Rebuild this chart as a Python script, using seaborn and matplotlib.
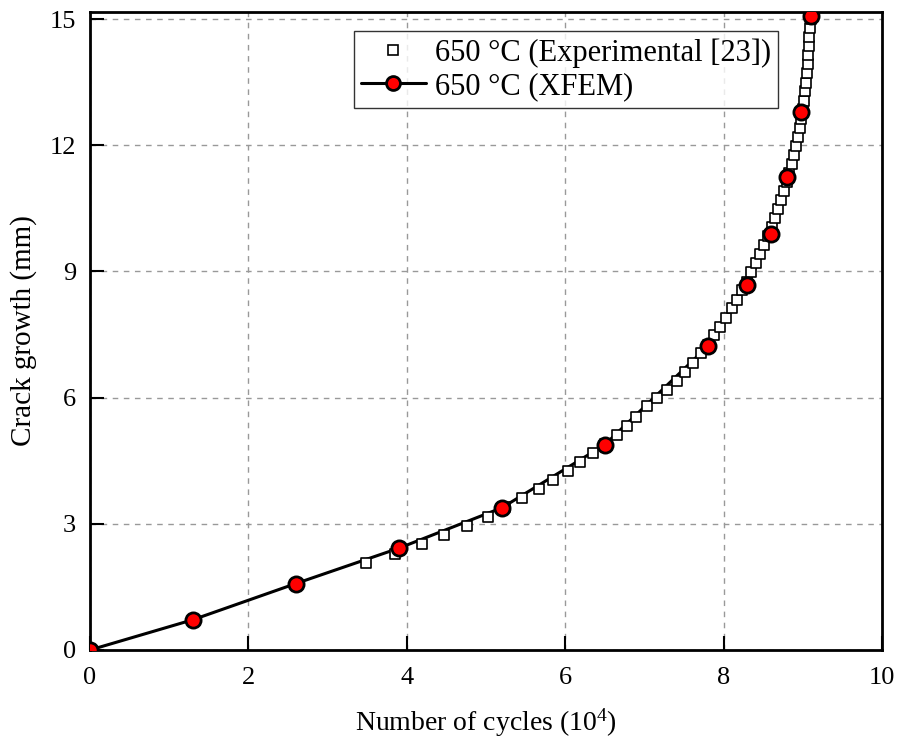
import numpy as np
import pandas as pd
import matplotlib
matplotlib.use("Agg")
import matplotlib.pyplot as plt
import seaborn as sns
from matplotlib.lines import Line2D

# Experimental data (cycles in 10^4, crack growth in mm)
exp_cycles = [3.48, 3.85, 4.19, 4.47, 4.76, 5.03, 5.24, 5.46, 5.67, 5.84, 6.04, 6.19, 6.35, 6.50,
              6.65, 6.78, 6.90, 7.03, 7.16, 7.29, 7.41, 7.51, 7.62, 7.71, 7.80, 7.88, 7.95,
              8.03, 8.10, 8.17, 8.23, 8.29, 8.35, 8.41, 8.46, 8.51, 8.56, 8.61, 8.65, 8.69,
              8.73, 8.76, 8.80, 8.83, 8.86, 8.89, 8.92, 8.94, 8.96, 8.98, 9.00, 9.01, 9.03,
              9.04, 9.05, 9.06, 9.07, 9.08, 9.08, 9.09, 9.10]
exp_growth = [2.07, 2.29, 2.52, 2.74, 2.95, 3.17, 3.39, 3.62, 3.83, 4.05, 4.26, 4.48, 4.69, 4.90,
              5.12, 5.33, 5.55, 5.79, 6.00, 6.19, 6.40, 6.62, 6.83, 7.05, 7.26, 7.48, 7.69,
              7.90, 8.12, 8.33, 8.55, 8.76, 8.98, 9.19, 9.41, 9.62, 9.84, 10.05, 10.27, 10.48,
              10.70, 10.91, 11.13, 11.34, 11.56, 11.77, 11.99, 12.20, 12.42, 12.63, 12.85, 13.06, 13.28,
              13.49, 13.71, 13.92, 14.14, 14.35, 14.57, 14.78, 15.00]

# XFEM results
xfem_cycles = [0.0, 1.3, 2.6, 3.9, 5.2, 6.5, 7.8, 8.3, 8.6, 8.8, 8.98, 9.1]
xfem_growth = [0.0, 0.72, 1.58, 2.42, 3.38, 4.88, 7.22, 8.68, 9.88, 11.25, 12.8, 15.08]

x_ticks = [0, 2, 4, 6, 8, 10]
y_ticks = [0, 3, 6, 9, 12, 15]

exp_label = "650 °C (Experimental [23])"
xfem_label = "650 °C (XFEM)"

sns.set_theme(style="white")
plt.rcParams['font.family'] = ['Liberation Serif', 'DejaVu Serif']
plt.rcParams['mathtext.fontset'] = 'custom'
plt.rcParams['mathtext.rm'] = 'Liberation Serif'
plt.rcParams['mathtext.it'] = 'Liberation Serif:italic'

df_exp = pd.DataFrame({"cycles": exp_cycles, "growth": exp_growth})
df_xfem = pd.DataFrame({"cycles": xfem_cycles, "growth": xfem_growth})

fig = plt.figure(figsize=(9.01, 7.42), dpi=100)
ax = fig.add_axes([0.0999, 0.124, 0.879, 0.86])

sns.lineplot(data=df_xfem, x="cycles", y="growth", ax=ax, color="black", lw=2.2,
             zorder=2, legend=False, sort=False)
sns.scatterplot(data=df_exp, x="cycles", y="growth", ax=ax, marker="s", s=55,
                facecolor="white", edgecolor="black", linewidth=1.2, zorder=3, legend=False)
sns.scatterplot(data=df_xfem, x="cycles", y="growth", ax=ax, marker="o", s=120,
                color="red", edgecolor="black", linewidth=2.0, zorder=4, legend=False)

ax.set_xlim(0, 10)
ax.set_ylim(0, 15.17)
ax.set_xticks(x_ticks)
ax.set_yticks(y_ticks)
ax.set_xticklabels([str(t) for t in x_ticks])
ax.set_yticklabels([str(t) for t in y_ticks])
ax.tick_params(direction="in", length=10, width=1.5, labelsize=19, colors="black",
               bottom=True, left=True)
ax.tick_params(axis="x", pad=12)
ax.tick_params(axis="y", pad=10)
ax.grid(True, color="#999999", linestyle=(0, (4, 4)), linewidth=1.0)
ax.set_axisbelow(True)
for s in ax.spines.values():
    s.set_color("black")
    s.set_linewidth(2.0)

ax.set_xlabel("Number of cycles (10$^{4}$)", fontsize=20, color="black", labelpad=13)
ax.set_ylabel("Crack growth (mm)", fontsize=21, color="black", labelpad=9)

handles = [
    Line2D([], [], ls="none", marker="s", markersize=7, mfc="white", mec="black", mew=1.2),
    Line2D([], [], color="black", lw=2.2, marker="o", markersize=10, mfc="red", mec="black", mew=2.0),
]
leg = ax.legend(handles, [exp_label, xfem_label], loc="upper left",
                bbox_to_anchor=(0.333, 0.970), fontsize=22, frameon=True, fancybox=False,
                edgecolor="black", handlelength=2.1, handletextpad=0.3, borderpad=0.25,
                labelspacing=0.12, borderaxespad=0)
leg.get_frame().set_linewidth(1.0)
for t in leg.get_texts():
    t.set_color("black")

fig.savefig("out.png", dpi=100)
